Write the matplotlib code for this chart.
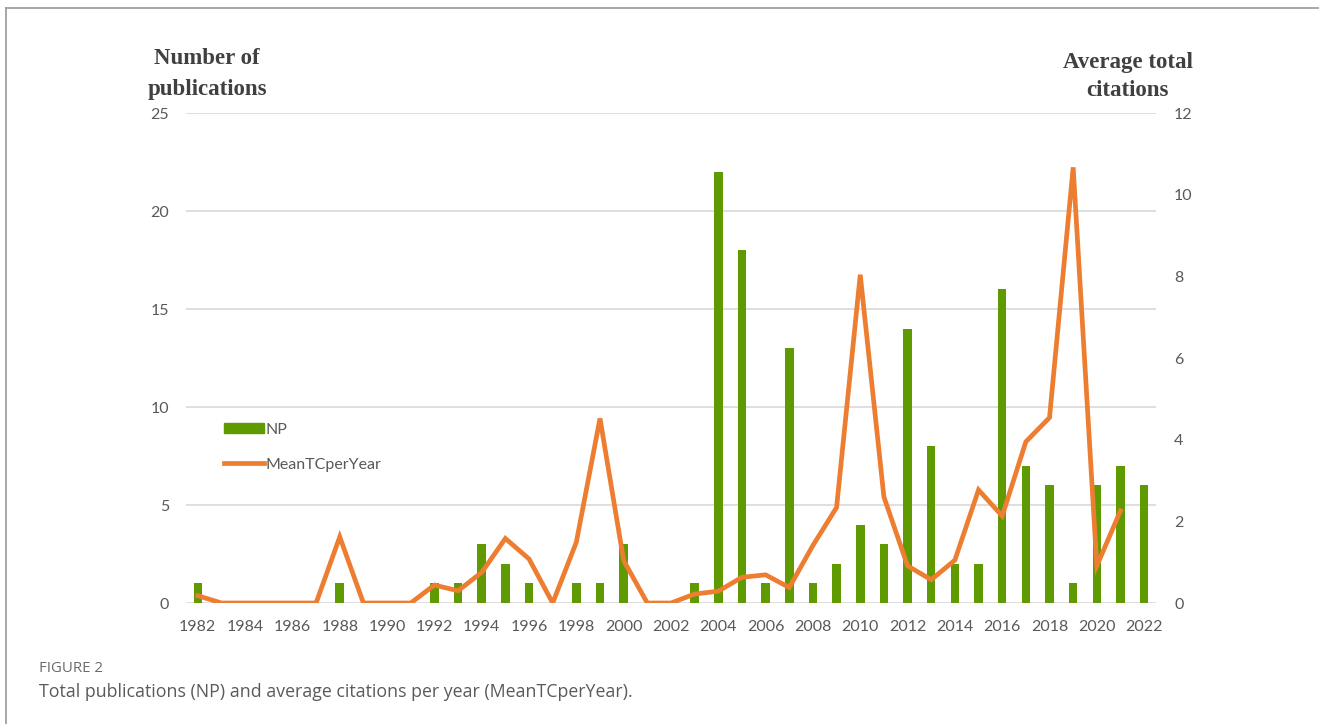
import numpy as np
import matplotlib.pyplot as plt
from matplotlib.lines import Line2D
from matplotlib.patches import Patch

years = list(range(1982, 2023))
np_counts = [1, 0, 0, 0, 0, 0, 1, 0, 0, 0,
             1, 1, 3, 2, 1, 0, 1, 1, 3, 0,
             0, 1, 22, 18, 1, 13, 1, 2, 4, 3,
             14, 8, 2, 2, 16, 7, 6, 1, 6, 7, 6]
# line stops at 2021
tc_years = list(range(1982, 2022))
mean_tc = [0.18, 0, 0, 0, 0, 0, 1.62, 0, 0, 0,
           0.44, 0.3, 0.75, 1.58, 1.08, 0, 1.49, 4.52, 1.04, 0,
           0, 0.22, 0.29, 0.63, 0.69, 0.38, 1.41, 2.34, 8.04, 2.6,
           0.91, 0.57, 1.05, 2.77, 2.13, 3.95, 4.54, 10.67, 0.91, 2.26]

green = '#5f9a00'
orange = '#ed7d31'
grey = '#595959'

fig = plt.figure(figsize=(13.19, 7.24), dpi=100)
ax = fig.add_axes([0.141, 0.1671, 0.7354, 0.6768])
ax2 = ax.twinx()

ax.bar(years, np_counts, width=0.36, color=green, zorder=2)
ax2.plot(tc_years, mean_tc, color=orange, lw=3.4, solid_joinstyle='miter', zorder=3)

ax.set_xlim(1981.5, 2022.5)
ax.set_ylim(0, 25)
ax2.set_ylim(0, 12)
ax.set_yticks([0, 5, 10, 15, 20, 25])
ax2.set_yticks(range(0, 13, 2))
ax.set_xticks(range(1982, 2023, 2))

ax.grid(axis='y', color='#d9d9d9', lw=1.2, zorder=0)
ax.set_axisbelow(True)
for a in (ax, ax2):
    for s in a.spines.values():
        s.set_visible(False)
    a.tick_params(length=0, labelsize=11.5, labelcolor=grey)
    for lab in a.get_xticklabels() + a.get_yticklabels():
        lab.set_family('Lato')
ax.tick_params(axis='y', pad=12)
ax2.tick_params(axis='y', pad=13)
ax.tick_params(axis='x', pad=12)

title_kw = dict(ha='center', va='center', family='Liberation Serif', weight='bold',
                size=16.5, color='#404040')
fig.text(0.157, 0.919, 'Number of', **title_kw)
fig.text(0.157, 0.877, 'publications', **title_kw)
fig.text(0.855, 0.914, 'Average total', **title_kw)
fig.text(0.855, 0.875, 'citations', **title_kw)

handles = [Patch(color=green), Line2D([], [], color=orange, lw=3.4)]
leg = ax.legend(handles, ['NP', 'MeanTCperYear'], loc='upper left', bbox_to_anchor=(0.024, 0.397),
                frameon=False, handlelength=2.5, handleheight=0.6, handletextpad=0.15,
                labelspacing=1.3, prop={'family': 'Lato', 'size': 11.5})
for t in leg.get_texts():
    t.set_color(grey)

fig.text(0.0295, 0.077, 'FIGURE 2', family='Open Sans', size=10.8, color='#6b6b6b', va='center')
fig.text(0.0295, 0.044, 'Total publications (NP) and average citations per year (MeanTCperYear).',
         family='Open Sans', size=12.8, color='#5a5a5a', va='center')

fig.add_artist(Line2D([6 / 1319, 1], [1 - 8 / 724, 1 - 8 / 724], color='#9a9a9a', lw=1.2))
fig.add_artist(Line2D([6 / 1319, 6 / 1319], [0, 1 - 8 / 724], color='#9a9a9a', lw=1.2))

fig.savefig('out.png', dpi=100)
